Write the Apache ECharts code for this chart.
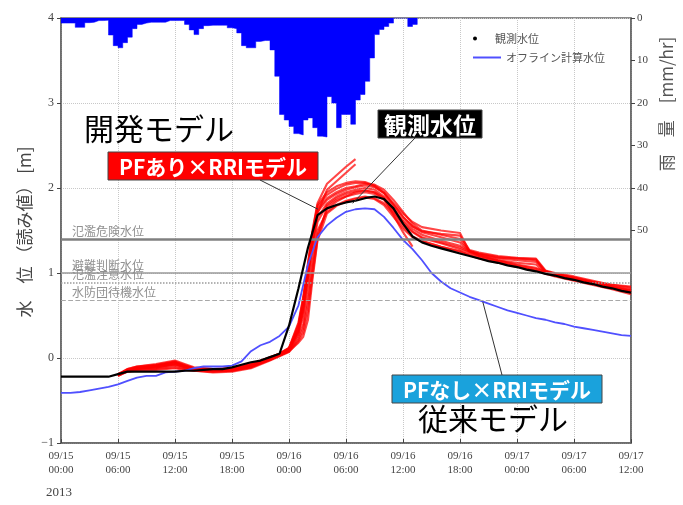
<!DOCTYPE html>
<html><head><meta charset="utf-8">
<script src="https://cdn.jsdelivr.net/npm/echarts@6/dist/echarts.min.js"></script>
<style>html,body{margin:0;padding:0;background:#fff}#c{width:683px;height:505px}</style>
</head><body><div id="c"></div>
<script>
// ---------- data ----------
const xTickLabels = ['09/15\n00:00','09/15\n06:00','09/15\n12:00','09/15\n18:00','09/16\n00:00','09/16\n06:00','09/16\n12:00','09/16\n18:00','09/17\n00:00','09/17\n06:00','09/17\n12:00'];
const rainTickValues = [0,10,20,30,40,50];

// hours since 09/15 00:00
const obsHours = [0,1,2,3,4,5,6,7,8,9,10,11,12,13,14,15,16,17,18,19,20,21,22,23,24,25,26,27,28,29,30,31,32,33,34,35,36,37,38,39,40,41,42,43,44,45,46,47,48,49,50,51,52,53,54,55,56,57,58,59,60];
const observedLevel = [-0.22,-0.22,-0.22,-0.22,-0.22,-0.22,-0.19,-0.16,-0.16,-0.16,-0.16,-0.16,-0.16,-0.15,-0.15,-0.14,-0.13,-0.13,-0.11,-0.08,-0.05,-0.03,0.01,0.05,0.38,0.82,1.30,1.68,1.76,1.80,1.83,1.85,1.88,1.90,1.87,1.76,1.58,1.43,1.36,1.32,1.29,1.26,1.23,1.20,1.17,1.14,1.12,1.09,1.07,1.04,1.02,0.99,0.97,0.94,0.92,0.89,0.87,0.84,0.82,0.79,0.77];
const offlineLevel = [-0.41,-0.41,-0.40,-0.38,-0.36,-0.34,-0.31,-0.27,-0.23,-0.21,-0.21,-0.17,-0.16,-0.15,-0.12,-0.10,-0.10,-0.10,-0.09,-0.04,0.08,0.15,0.19,0.26,0.37,0.62,1.10,1.42,1.56,1.65,1.72,1.75,1.76,1.75,1.66,1.53,1.39,1.28,1.15,1.00,0.90,0.82,0.77,0.72,0.68,0.64,0.60,0.56,0.53,0.50,0.47,0.45,0.42,0.40,0.37,0.35,0.33,0.31,0.29,0.27,0.26];

// rainfall [mm/hr], each value holds from its start hour for half an hour
const rainHours = [0,0.5,1,1.5,2,2.5,3,3.5,4,4.5,5,5.5,6,6.5,7,7.5,8,8.5,9,9.5,10,10.5,11,11.5,12,12.5,13,13.5,14,14.5,15,15.5,16,16.5,17,17.5,18,18.5,19,19.5,20,20.5,21,21.5,22,22.5,23,23.5,24,24.5,25,25.5,26,26.5,27,27.5,28,28.5,29,29.5,30,30.5,31,31.5,32,32.5,33,33.5,34,34.5,35,35.5,36,36.5,37,37.5];
const rainfall = [1.2,1.2,1.2,2.2,2.2,1.1,1.0,0.6,0.6,0.5,4.0,6.5,7.0,5.8,4.5,2.5,1.5,1.2,1.0,1.0,1.0,1.0,0.6,0.6,0.6,0.6,1.5,2.8,3.9,2.5,1.8,1.7,1.7,1.7,1.7,2.3,2.5,3.5,6.5,7.0,7.0,5.5,5.3,5.3,7.5,13.7,22.7,24.0,25.5,27.2,27.5,24.0,23.5,25.8,27.8,28.0,18.5,20.0,25.8,22.7,22.7,25.0,19.3,18.0,14.9,9.4,3.9,2.7,2.0,1.2,0,0,0,2.0,1.5,0];

// PF ensemble members (hours in redHours)
const redHours = [6,7,8,10,12,13,14,16,18,20,22,23,24,25,25.5,26,26.5,27,28,29,30,31,32,33,34,35,36,37,38,40,42,43,44,46,48,50,51,52,54,56,58,60];
const redMember1 = [-0.20,-0.15,-0.12,-0.10,-0.06,-0.10,-0.13,-0.14,-0.13,-0.08,0.00,0.04,0.10, 0.30,0.55,0.95,1.35,1.65, 1.82,1.90,1.95,1.98,2.00,1.98,1.90,1.76,1.62,1.52,1.45,1.38,1.32, 1.26,1.21,1.15,1.10,1.06,1.02,0.98,0.93,0.88,0.83,0.79];
const redMember2 = [-0.19,-0.14,-0.13,-0.12,-0.09,-0.12,-0.14,-0.15,-0.15,-0.11,-0.02,0.03,0.08, 0.25,0.40,0.75,1.15,1.50, 1.72,1.80,1.85,1.88,1.90,1.88,1.82,1.70,1.55,1.43,1.38,1.31,1.25, 1.22,1.18,1.13,1.08,1.03,1.00,0.97,0.92,0.87,0.82,0.77];
const redMember3 = [-0.20,-0.13,-0.10,-0.08,-0.04,-0.08,-0.12,-0.13,-0.12,-0.07,0.01,0.05,0.11, 0.40,0.70,1.10,1.50,1.80, 1.95,2.02,2.06,2.08,2.07,2.03,1.95,1.82,1.70,1.60,1.54,1.50,1.47, 1.25,1.22,1.18,1.17,1.16,1.02,0.99,0.94,0.89,0.84,0.81];
const redMember4 = [-0.21,-0.16,-0.15,-0.14,-0.12,-0.14,-0.15,-0.17,-0.16,-0.12,-0.03,0.02,0.07, 0.20,0.30,0.55,1.00,1.40, 1.78,1.86,1.90,1.93,1.95,1.93,1.86,1.72,1.58,1.48,1.41,1.35,1.28, 1.24,1.20,1.15,1.12,1.10,1.00,0.97,0.92,0.88,0.83,0.78];
const redMember5 = [-0.19,-0.14,-0.11,-0.09,-0.05,-0.09,-0.12,-0.13,-0.13,-0.09,-0.01,0.04,0.09, 0.35,0.65,1.05,1.45,1.75, 1.88,1.95,2.00,2.02,2.05,2.04,1.98,1.86,1.72,1.58,1.50,1.45,1.40, 1.26,1.23,1.19,1.17,1.15,1.01,0.99,0.95,0.90,0.86,0.83];
const redMember6 = [-0.20,-0.14,-0.11,-0.09,-0.05,-0.09,-0.12,-0.14,-0.13,-0.08,0.00,0.05,0.12, 0.42,0.72,1.12,1.52,1.82, 2.05,2.15,2.25,2.34,null,null,null,null,null,null,null,null,null, null,null,null,null,null,null,null,null,null,null,null];
const redMember7 = [-0.20,-0.15,-0.12,-0.11,-0.07,-0.11,-0.13,-0.15,-0.14,-0.09,-0.01,0.04,0.10, 0.32,0.58,0.98,1.38,1.70, 1.98,2.08,2.18,2.28,null,null,null,null,null,null,null,null,null, null,null,null,null,null,null,null,null,null,null,null];
const redMember8 = [-0.21,-0.15,-0.13,-0.11,-0.08,-0.11,-0.14,-0.16,-0.15,-0.10,-0.02,0.03,0.08, 0.22,0.35,0.65,1.08,1.45, 1.75,1.84,1.90,1.95,1.97,1.95,1.88,1.68,1.48,1.31,null,null,null, null,null,null,null,null,null,null,null,null,null,null];
const redMember9 = [-0.20,-0.14,-0.12,-0.09,-0.05,-0.10,-0.13,-0.14,-0.14,-0.09,0.00,0.05,0.11, 0.38,0.68,1.08,1.48,1.78, 1.92,1.99,2.04,2.06,2.06,2.02,1.94,1.80,1.66,1.55,1.49,1.46,1.44, 1.27,1.24,1.20,1.18,1.17,1.03,1.00,0.96,0.91,0.86,0.84];
const redMember10 = [-0.20,-0.15,-0.13,-0.10,-0.07,-0.10,-0.13,-0.15,-0.14,-0.10,-0.01,0.04,0.09, 0.28,0.50,0.88,1.28,1.60, 1.80,1.88,1.93,1.96,1.97,1.95,1.88,1.74,1.60,1.49,1.42,1.36,1.30, 1.25,1.20,1.14,1.09,1.05,1.01,0.98,0.93,0.88,0.83,0.78];
const redMember11 = [-0.21,-0.16,-0.14,-0.13,-0.11,-0.13,-0.15,-0.16,-0.15,-0.11,-0.02,0.03,0.08, 0.18,0.25,0.45,0.95,1.38, 1.70,1.79,1.84,1.87,1.89,1.87,1.80,1.66,1.52,1.42,1.37,1.31,1.26, 1.21,1.17,1.12,1.07,1.03,0.99,0.96,0.91,0.86,0.81,0.75];
const redMember12 = [-0.19,-0.13,-0.10,-0.07,-0.03,-0.07,-0.11,-0.13,-0.12,-0.07,0.01,0.05,0.12, 0.33,0.60,1.00,1.40,1.72, 1.86,1.93,1.98,2.01,2.03,2.01,1.94,1.80,1.66,1.55,1.48,1.42,1.36, 1.26,1.22,1.17,1.15,1.13,1.02,0.99,0.94,0.89,0.84,0.80];
const redMembers = [redMember1,redMember2,redMember3,redMember4,redMember5,redMember6,redMember7,redMember8,redMember9,redMember10,redMember11,redMember12];

const thresholdNames = ['氾濫危険水位','避難判断水位','氾濫注意水位','水防団待機水位'];
const thresholdValues = [1.40, 1.00, 0.89, 0.68];

// ---------- chart ----------
const chart = echarts.init(document.getElementById('c'), null, {renderer:'canvas'});
const serif = '"Liberation Serif","DejaVu Serif",serif';
const jp = '"Noto Sans CJK JP","Noto Sans",sans-serif';

const thrStyles = [
  {color:'#808080', width:2.5, type:'solid'},
  {color:'#9a9a9a', width:1.5, type:'solid'},
  {color:'#9a9a9a', width:1.5, type:'dotted'},
  {color:'#a8a8a8', width:1.2, type:'dashed'}
];

const series = [];
series.push({
  name:'雨量', type:'line', xAxisIndex:0, yAxisIndex:1, z:1,
  data: rainHours.map((h,i)=>[h, rainfall[i]]),
  step:'end', showSymbol:false, symbol:'none',
  lineStyle:{width:0.5, color:'#0000ff'},
  areaStyle:{color:'#0000ff', opacity:1, origin:'start'},
  silent:true
});
redMembers.forEach((m,k)=>{
  series.push({
    name:'PF'+(k+1), type:'line', xAxisIndex:0, yAxisIndex:0, z:3,
    data: redHours.map((h,i)=>[h, m[i]]),
    showSymbol:false, symbol:'none', connectNulls:false,
    lineStyle:{color:'rgba(255,0,0,0.72)', width:2.1}, silent:true
  });
});
series.push({
  name:'オフライン計算水位', type:'line', xAxisIndex:0, yAxisIndex:0, z:4,
  data: obsHours.map((h,i)=>[h, offlineLevel[i]]),
  showSymbol:false, symbol:'none', itemStyle:{color:'#5050ff'},
  lineStyle:{color:'#5050ff', width:1.8}, silent:true,
  markLine:{
    silent:true, symbol:'none',
    data: thresholdNames.map((n,i)=>({name:n, yAxis:thresholdValues[i], lineStyle:thrStyles[i]})),
    label:{show:true, position:'insideStartTop', formatter:'{b}', color:'#909090', fontSize:12, fontFamily:jp, distance:[11,2]}
  }
});
series.push({
  name:'観測水位', type:'line', xAxisIndex:0, yAxisIndex:0, z:5,
  data: obsHours.map((h,i)=>[h, observedLevel[i]]),
  showSymbol:false, symbol:'none', itemStyle:{color:'#000'},
  lineStyle:{color:'#000', width:2.2}, silent:true
});

const option = {
  animation:false,
  backgroundColor:'#fff',
  grid:{left:61, top:18, width:570, height:425, show:true, borderColor:'#666', borderWidth:1.5, containLabel:false},
  legend:[
    {data:[{name:'観測水位', icon:'circle'}], left:468, top:28, itemWidth:30, itemHeight:4, itemGap:0,
     textStyle:{color:'#555', fontSize:11, fontFamily:jp}, selectedMode:false},
    {data:[{name:'オフライン計算水位', icon:'rect'}], left:468, top:47, itemWidth:28, itemHeight:2, itemGap:0,
     textStyle:{color:'#555', fontSize:11, fontFamily:jp}, selectedMode:false}
  ],
  xAxis:[{
    type:'value', min:0, max:60, interval:6,
    axisLine:{show:true, onZero:false, lineStyle:{color:'#666', width:1.5}},
    axisTick:{show:true, inside:true, length:4, lineStyle:{color:'#444'}},
    axisLabel:{color:'#444', fontSize:11, fontFamily:serif, lineHeight:14, margin:6,
      formatter:(v)=>xTickLabels[Math.round(v/6)]},
    splitLine:{show:true, lineStyle:{color:'#c8c8c8', type:'dotted', width:1}}
  }],
  yAxis:[{
    type:'value', min:-1, max:4, interval:1, position:'left',
    axisLine:{show:true, onZero:false, lineStyle:{color:'#666', width:1.5}},
    axisTick:{show:true, length:4, lineStyle:{color:'#444'}},
    axisLabel:{color:'#444', fontSize:12, fontFamily:serif, margin:7,
      formatter:(v)=>String(v).replace('-','−')},
    splitLine:{show:true, lineStyle:{color:'#c8c8c8', type:'dotted', width:1}}
  },{
    type:'value', min:0, max:100, interval:10, inverse:true, position:'right',
    axisLine:{show:true, onZero:false, lineStyle:{color:'#666', width:1.5}},
    axisTick:{show:true, length:4, customValues:rainTickValues, lineStyle:{color:'#444'}},
    axisLabel:{color:'#444', fontSize:11, fontFamily:serif, margin:6, customValues:rainTickValues},
    splitLine:{show:false}
  }],
  series: series
};
chart.setOption(option);

// ---------- annotations ----------
function px(t, v){ return chart.convertToPixel({xAxisIndex:0, yAxisIndex:0}, [t, v]); }
const pRed = px(27.05, 1.75);
const pObs = px(30.7, 1.82);
const pOff = px(44.4, 0.66);

function box(x, y, w, h, fill, text, fs){
  return {type:'group', x:x, y:y, z:100, children:[
    {type:'rect', shape:{x:0, y:0, width:w, height:h}, style:{fill:fill, stroke:'#444', lineWidth:1}},
    {type:'text', x:w/2, y:h/2+1, style:{text:text, fill:'#fff', font:'bold '+fs+'px '+jp, align:'center', verticalAlign:'middle'}}
  ]};
}

chart.setOption({graphic:[
  {type:'line', z:90, shape:{x1:260, y1:180, x2:pRed[0], y2:pRed[1]}, style:{stroke:'#333', lineWidth:1}},
  {type:'line', z:90, shape:{x1:415, y1:138, x2:pObs[0], y2:pObs[1]}, style:{stroke:'#333', lineWidth:1}},
  {type:'line', z:90, shape:{x1:502, y1:375, x2:pOff[0], y2:pOff[1]}, style:{stroke:'#333', lineWidth:1}},
  {type:'text', z:100, x:84, y:114, style:{text:'開発モデル', fill:'#000', font:'30px '+jp}},
  box(108, 152, 210, 28, '#ff0000', 'PFあり×RRIモデル', 21),
  box(378, 110, 104, 28, '#000000', '観測水位', 23),
  box(392, 375, 210, 28, '#1aa2dc', 'PFなし×RRIモデル', 21),
  {type:'text', z:100, x:418, y:404, style:{text:'従来モデル', fill:'#000', font:'30px '+jp}},
  {type:'text', z:100, x:25, y:232, rotation:Math.PI/2,
   style:{text:'水　位 （読み値） [m]', fill:'#444', font:'17px '+jp, align:'center', verticalAlign:'middle'}},
  {type:'text', z:100, x:667, y:104, rotation:Math.PI/2,
   style:{text:'雨　量　[mm/hr]', fill:'#555', font:'17px '+jp, align:'center', verticalAlign:'middle'}},
  {type:'text', z:100, x:46, y:486, style:{text:'2013', fill:'#444', font:'13px '+serif}}
]});
</script>
</body></html>
